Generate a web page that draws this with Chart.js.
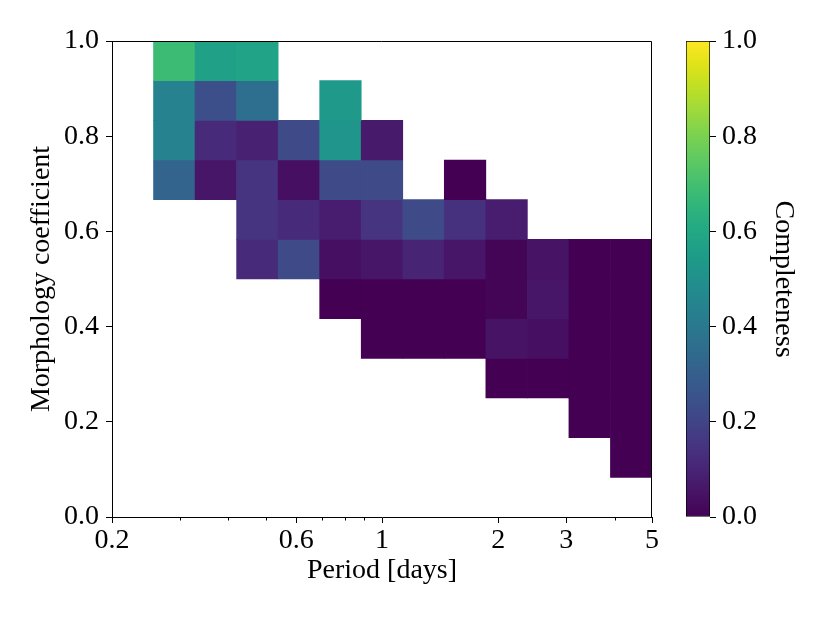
<!DOCTYPE html>
<html><head><meta charset="utf-8">
<script src="https://cdn.jsdelivr.net/npm/chart.js@4.4.0/dist/chart.umd.min.js"></script>
<style>
html,body{margin:0;padding:0;background:#fff;}
#wrap{position:relative;width:830px;height:623px;}
canvas{position:absolute;left:0;top:0;}
</style>
</head><body>
<div id="wrap"><canvas id="main" width="830" height="623"></canvas><canvas id="cbar" width="830" height="623"></canvas></div>
<script>
// ---- data ----
const periodEdges = [0.2, 0.25619, 0.32817, 0.42036, 0.53846, 0.68974, 0.88352, 1.13175, 1.44971, 1.85701, 2.37874, 3.04704, 3.90312, 5.0];
const morphEdges = [0, 0.08333, 0.16667, 0.25, 0.33333, 0.41667, 0.5, 0.58333, 0.66667, 0.75, 0.83333, 0.91667, 1.0];
const N = null;
// completeness: rows = morphology bins (bottom -> top), columns = period bins (left -> right)
const completeness = [
  [N,N,N,N,N,N,N,N,N,N,N,N,N],
  [N,N,N,N,N,N,N,N,N,N,N,N,0.00],
  [N,N,N,N,N,N,N,N,N,N,N,0.00,0.00],
  [N,N,N,N,N,N,N,N,N,0.00,0.00,0.00,0.00],
  [N,N,N,N,N,N,0.00,0.00,0.00,0.05,0.04,0.00,0.00],
  [N,N,N,N,N,0.00,0.00,0.00,0.00,0.01,0.06,0.00,0.00],
  [N,N,N,0.12,0.22,0.04,0.06,0.10,0.06,0.01,0.05,0.00,0.00],
  [N,N,N,0.15,0.12,0.08,0.15,0.22,0.14,0.08,N,N,N],
  [N,0.32,0.06,0.15,0.04,0.22,0.22,N,0.00,N,N,N,N],
  [N,0.44,0.12,0.09,0.22,0.52,0.07,N,N,N,N,N,N],
  [N,0.44,0.24,0.36,N,0.54,N,N,N,N,N,N,N],
  [N,0.68,0.57,0.58,N,N,N,N,N,N,N,N,N]
];
const xMajorTicks = [0.2, 0.6, 1, 2, 3, 5];
const xMinorTicks = [0.3, 0.4, 0.5, 0.7, 0.8, 0.9, 4];
const yTicks = [0, 0.2, 0.4, 0.6, 0.8, 1.0];
const cbarTicks = [0, 0.2, 0.4, 0.6, 0.8, 1.0];

// ---- viridis colormap ----
const VIRIDIS = ['#440154','#471365','#482475','#463480','#414487','#3b528b','#355f8d','#2f6c8e','#2a788e','#25848e','#21918c','#1e9c89','#22a884','#2fb47c','#44bf70','#5ec962','#7ad151','#9bd93c','#bddf26','#dfe318','#fde725'];
function hex2rgb(h){return [parseInt(h.substr(1,2),16),parseInt(h.substr(3,2),16),parseInt(h.substr(5,2),16)];}
function viridis(t){
  t = Math.max(0, Math.min(1, t));
  const p = t * (VIRIDIS.length - 1);
  const i = Math.min(Math.floor(p), VIRIDIS.length - 2);
  const f = p - i;
  const a = hex2rgb(VIRIDIS[i]), b = hex2rgb(VIRIDIS[i+1]);
  const c = a.map((v,k)=>Math.round(v + (b[k]-v)*f));
  return 'rgb(' + c.join(',') + ')';
}

const cells = [], cellColors = [];
completeness.forEach((row, j) => row.forEach((v, i) => {
  if (v === null) return;
  cells.push({x: [periodEdges[i], periodEdges[i+1]], y: (morphEdges[j] + morphEdges[j+1]) / 2});
  cellColors.push(viridis(v));
}));

const FAMILY = "'Liberation Serif', 'DejaVu Serif', serif";
const FS = 28;

const framePlugin = {
  id: 'frame',
  afterDraw(chart) {
    const {ctx, chartArea: a, scales} = chart;
    ctx.save();
    ctx.strokeStyle = '#000';
    ctx.lineWidth = 1;
    ctx.beginPath();
    const t = Math.round(a.top) + 0.5, r = Math.round(a.right) - 0.5, b = Math.round(a.bottom);
    ctx.moveTo(Math.round(a.left), t); ctx.lineTo(r, t); ctx.lineTo(r, b);
    xMinorTicks.forEach(v => {
      const px = Math.round(scales.x.getPixelForValue(v)) + 0.5;
      ctx.moveTo(px, b); ctx.lineTo(px, b + 3.5);
    });
    ctx.stroke();
    ctx.restore();
  }
};

new Chart(document.getElementById('main'), {
  type: 'bar',
  data: { datasets: [{ data: cells, backgroundColor: cellColors, borderWidth: 0, barPercentage: 1, categoryPercentage: 1 }] },
  options: {
    indexAxis: 'y', responsive: false, animation: false,
    layout: { padding: { left: 0, top: 41, right: 178, bottom: 0 } },
    plugins: { legend: { display: false }, tooltip: { enabled: false } },
    scales: {
      x: {
        type: 'logarithmic', min: 0.2, max: 5, position: 'bottom', offset: false,
        afterFit: s => { s.height = 106; },
        afterBuildTicks: s => { s.ticks = xMajorTicks.map(v => ({ value: v })); },
        ticks: { autoSkip: false, maxRotation: 0, color: '#000', font: { family: FAMILY, size: FS }, padding: 1, callback: v => String(v) },
        grid: { offset: false, drawOnChartArea: false, drawTicks: true, tickLength: 6, tickColor: '#000', tickWidth: 1 },
        border: { display: true, color: '#000', width: 1 },
        title: { display: true, text: 'Period [days]', color: '#000', font: { family: FAMILY, size: FS }, padding: { top: 0, bottom: 36 } }
      },
      y: {
        type: 'linear', min: 0, max: 1, position: 'left', offset: false,
        afterFit: s => { s.width = 112; },
        afterBuildTicks: s => { s.ticks = yTicks.map(v => ({ value: v })); },
        ticks: { color: '#000', font: { family: FAMILY, size: FS }, padding: 7, callback: v => Number(v).toFixed(1) },
        grid: { offset: false, drawOnChartArea: false, drawTicks: true, tickLength: 6, tickColor: '#000', tickWidth: 1 },
        border: { display: true, color: '#000', width: 1 },
        title: { display: true, text: 'Morphology coefficient', color: '#000', font: { family: FAMILY, size: FS }, padding: { top: 25, bottom: 0 } }
      }
    }
  },
  plugins: [framePlugin]
});

new Chart(document.getElementById('cbar'), {
  type: 'bar',
  data: { labels: [''], datasets: [{
    data: [[0, 1]],
    backgroundColor: (c) => {
      const area = c.chart.chartArea;
      if (!area) return '#440154';
      const g = c.chart.ctx.createLinearGradient(0, area.bottom, 0, area.top);
      VIRIDIS.forEach((col, i) => g.addColorStop(i / (VIRIDIS.length - 1), col));
      return g;
    },
    borderColor: '#000', borderWidth: 1, borderSkipped: false, barPercentage: 1, categoryPercentage: 1
  }] },
  options: {
    responsive: false, animation: false,
    layout: { padding: { left: 686, top: 41, right: 0, bottom: 106 } },
    plugins: { legend: { display: false }, tooltip: { enabled: false } },
    scales: {
      x: { display: false },
      y: {
        type: 'linear', position: 'right', min: 0, max: 1,
        afterFit: s => { s.width = 120; },
        afterBuildTicks: s => { s.ticks = cbarTicks.map(v => ({ value: v })); },
        ticks: { color: '#000', font: { family: FAMILY, size: FS }, padding: 6, callback: v => Number(v).toFixed(1) },
        grid: { drawOnChartArea: false, drawTicks: true, tickLength: 6, tickColor: '#000', tickWidth: 1 },
        border: { display: false },
        title: { display: true, text: 'Completeness', color: '#000', font: { family: FAMILY, size: FS }, padding: { top: 30, bottom: 0 } }
      }
    }
  }
});
</script>
</body></html>
